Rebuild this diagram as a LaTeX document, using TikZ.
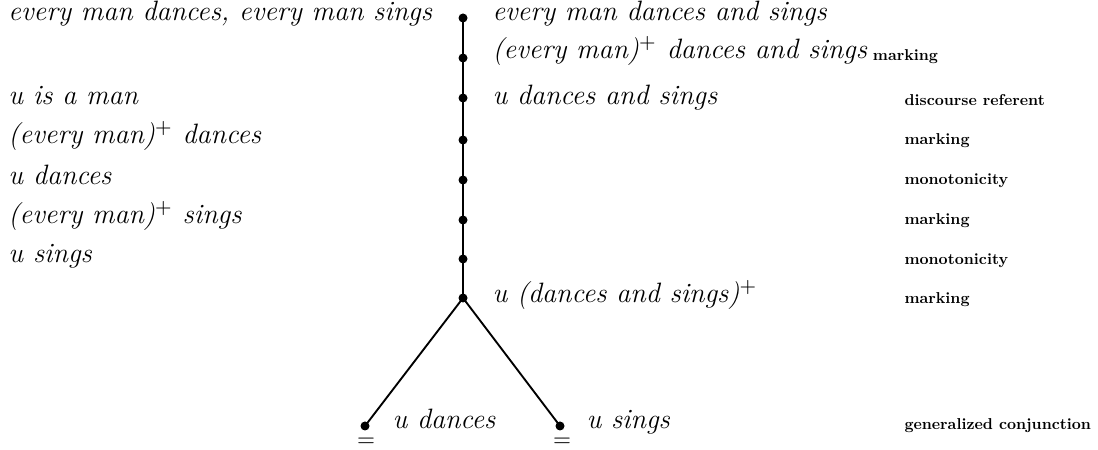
\documentclass[tikz,border=0pt]{standalone}
\newcommand{\lbl}[1]{\scalebox{0.63}{\bfseries #1}}
\begin{document}
\begin{tikzpicture}[x=0.4pt,y=-0.4pt,
  dot/.style={circle,fill=black,inner sep=0pt,minimum size=3.6pt},
  conn/.style={line width=0.75pt},
  txt/.style={anchor=west,inner sep=0pt,font=\fontsize{11.2}{13}\selectfont\itshape,text height=1.6ex,text depth=.4ex},
  lab/.style={anchor=west,inner sep=0pt,font=\fontsize{10}{12}\selectfont},
  eq/.style={inner sep=0pt,font=\fontsize{9}{10}\selectfont}]
\useasboundingbox (0,0) rectangle (1098,450);
% spine dots
\node[dot] (d1) at (463,18) {};
\node[dot] (d2) at (463,58) {};
\node[dot] (d3) at (463,98) {};
\node[dot] (d4) at (463,140) {};
\node[dot] (d5) at (463,180) {};
\node[dot] (d6) at (463,220) {};
\node[dot] (d7) at (463,259) {};
\node[dot] (d8) at (463,298) {};
\node[dot] (l1) at (365,426) {};
\node[dot] (l2) at (560,426) {};
\draw[conn] (d1.center) -- (d2.center) -- (d3.center) -- (d4.center) -- (d5.center) -- (d6.center) -- (d7.center) -- (d8.center);
\draw[conn] (d8.center) -- (l1.center);
\draw[conn] (d8.center) -- (l2.center);
\node[eq] (e1) at (366,442) {$=$};
\node[eq] (e2) at (562,442) {$=$};
% left column
\node[txt] (a1) at (8,14) {every man dances, every man sings};
\node[txt] (a3) at (8,98) {u is a man};
\node[txt] (a4) at (8,137) {(every man)$^+$ dances};
\node[txt] (a5) at (8,178) {u dances};
\node[txt] (a6) at (8,217) {(every man)$^+$ sings};
\node[txt] (a7) at (8,256) {u sings};
% right column
\node[txt] (b1) at (492,14) {every man dances and sings};
\node[txt] (b2) at (492,52) {(every man)$^+$ dances and sings};
\node[lab] (m2) at (b2.east) [anchor=west,xshift=2pt,yshift=-2pt] {\lbl{marking}};
\node[txt] (b3) at (492,98) {u dances and sings};
\node[txt] (b8) at (492,296) {u (dances and sings)$^+$};
\node[txt] (c1) at (392,422) {u dances};
\node[txt] (c2) at (586,422) {u sings};
% labels
\node[lab] (g3) at (904,100) {\lbl{discourse referent}};
\node[lab] (g4) at (904,141) {\lbl{marking}};
\node[lab] (g5) at (904,181) {\lbl{monotonicity}};
\node[lab] (g6) at (904,221) {\lbl{marking}};
\node[lab] (g7) at (904,261) {\lbl{monotonicity}};
\node[lab] (g8) at (904,300) {\lbl{marking}};
\node[lab] (g9) at (904,426) {\lbl{generalized conjunction}};
\end{tikzpicture}
\end{document}
